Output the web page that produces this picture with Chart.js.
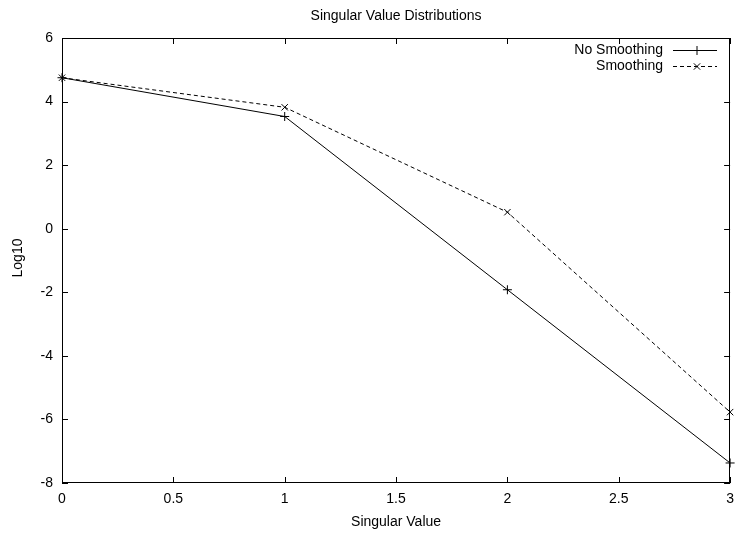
<!DOCTYPE html>
<html>
<head>
<meta charset="utf-8">
<script src="https://cdn.jsdelivr.net/npm/chart.js@4/dist/chart.umd.min.js"></script>
<style>
html,body{margin:0;padding:0;background:#fff;}
#wrap{width:742px;height:534px;position:relative;}
</style>
</head>
<body>
<div id="wrap"><canvas id="c" width="742" height="534"></canvas></div>
<script>
const xValues = [0, 1, 2, 3];
const noSmoothing = [4.75, 3.53, -1.92, -7.37];
const smoothing = [4.75, 3.82, 0.52, -5.77];
const seriesNames = ['No Smoothing', 'Smoothing'];
const chartTitle = 'Singular Value Distributions';
const xTitle = 'Singular Value';
const yTitle = 'Log10';

const FONT = '"Liberation Sans", Arial, Helvetica, sans-serif';
const FS = 14;

const framePlugin = {
  id: 'frame',
  afterDatasetsDraw(chart) {
    const ctx = chart.ctx;
    const a = chart.chartArea;
    const xs = chart.scales.x, ys = chart.scales.y;
    ctx.save();
    ctx.strokeStyle = '#000';
    ctx.lineWidth = 1;
    ctx.strokeRect(Math.round(a.left) + 0.5, Math.round(a.top) + 0.5, Math.round(a.right - a.left) - 1, Math.round(a.bottom - a.top) - 1);
    const tl = 6;
    ctx.beginPath();
    xs.ticks.forEach(t => {
      const px = Math.round(xs.getPixelForValue(t.value)) + 0.5;
      ctx.moveTo(px, a.bottom); ctx.lineTo(px, a.bottom - tl);
      ctx.moveTo(px, a.top); ctx.lineTo(px, a.top + tl);
    });
    ys.ticks.forEach(t => {
      const py = Math.round(ys.getPixelForValue(t.value)) + 0.5;
      ctx.moveTo(a.left, py); ctx.lineTo(a.left + tl, py);
      ctx.moveTo(a.right, py); ctx.lineTo(a.right - tl, py);
    });
    ctx.stroke();

    // titles
    ctx.fillStyle = '#000';
    ctx.font = FS + 'px ' + FONT;
    ctx.textAlign = 'center';
    ctx.textBaseline = 'middle';
    const cx = (a.left + a.right) / 2;
    ctx.fillText(chartTitle, cx, 16);
    ctx.fillText(xTitle, cx, 522);
    ctx.save();
    ctx.translate(18, 258);
    ctx.rotate(-Math.PI / 2);
    ctx.fillText(yTitle, 0, 0);
    ctx.restore();

    // legend
    const items = [
      {label: seriesNames[0], y: 50, dash: [], style: 'cross'},
      {label: seriesNames[1], y: 66, dash: [4, 3], style: 'crossRot'}
    ];
    items.forEach(it => {
      ctx.textAlign = 'right';
      ctx.fillText(it.label, 663, it.y);
      ctx.beginPath();
      ctx.setLineDash(it.dash);
      ctx.moveTo(673, it.y + 0.5); ctx.lineTo(717, it.y + 0.5);
      ctx.stroke();
      ctx.setLineDash([]);
      Chart.helpers.drawPoint(ctx, {pointStyle: it.style, radius: 4.5, borderWidth: 1}, 697, it.y + 0.5);
    });
    ctx.restore();
  }
};

new Chart(document.getElementById('c'), {
  type: 'scatter',
  data: {
    datasets: [
      {
        label: seriesNames[0],
        data: xValues.map((x, i) => ({x: x, y: noSmoothing[i]})),
        showLine: true,
        borderColor: '#000',
        backgroundColor: '#000',
        borderWidth: 1,
        pointStyle: 'cross',
        pointRadius: 4.5,
        pointBorderWidth: 1,
        pointBorderColor: '#000',
        tension: 0
      },
      {
        label: seriesNames[1],
        data: xValues.map((x, i) => ({x: x, y: smoothing[i]})),
        showLine: true,
        borderColor: '#000',
        backgroundColor: '#000',
        borderWidth: 1,
        borderDash: [4, 3],
        pointStyle: 'crossRot',
        pointRadius: 4.5,
        pointBorderWidth: 1,
        pointBorderColor: '#000',
        tension: 0
      }
    ]
  },
  options: {
    responsive: false,
    animation: false,
    devicePixelRatio: 1,
    clip: false,
    layout: {padding: {top: 38, right: 5, left: 0, bottom: 0}},
    plugins: {legend: {display: false}, title: {display: false}, tooltip: {enabled: false}},
    scales: {
      x: {
        type: 'linear', min: 0, max: 3,
        grid: {display: false, drawTicks: false},
        border: {display: false},
        ticks: {stepSize: 0.5, padding: 8, color: '#000', font: {family: FONT, size: FS}, maxRotation: 0,
          callback: v => String(v)},
        afterFit: s => { s.height = 51; }
      },
      y: {
        type: 'linear', min: -8, max: 6,
        grid: {display: false, drawTicks: false},
        border: {display: false},
        ticks: {stepSize: 2, padding: 9, color: '#000', font: {family: FONT, size: FS},
          callback: v => String(v)},
        afterFit: s => { s.width = 62; }
      }
    }
  },
  plugins: [framePlugin]
});
</script>
</body>
</html>
